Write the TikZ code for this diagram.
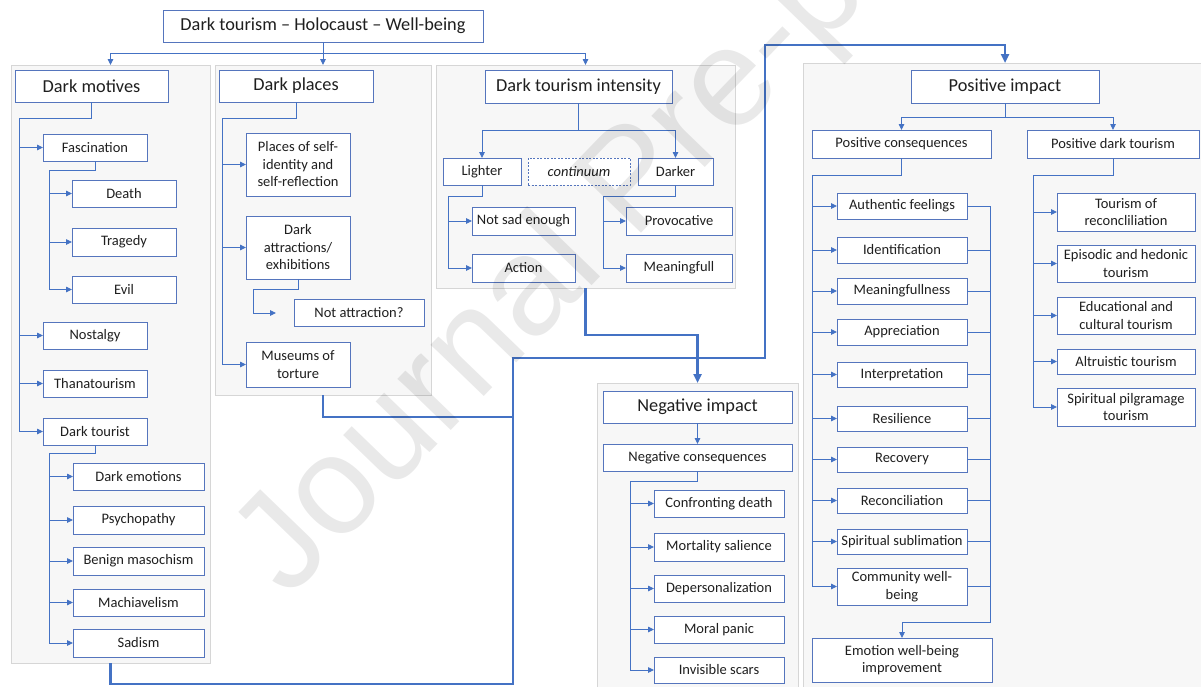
\documentclass[tikz,border=0pt]{standalone}
\usepackage{fontspec}
\setmainfont{Carlito}
\newfontfamily\wmfont{Liberation Sans}
\usetikzlibrary{arrows.meta}
\definecolor{lnblue}{HTML}{4472C4}
\definecolor{bxblue}{HTML}{5575BD}
\definecolor{pnfill}{HTML}{F7F7F7}
\definecolor{pnline}{HTML}{D6D6D6}
\definecolor{txt}{HTML}{1F1F1F}
\tikzset{
 bx/.style={draw=bxblue, line width=0.9pt, fill=white, text=txt, font=\fontsize{14.5}{17.5}\selectfont, align=center, inner sep=0pt, outer sep=0pt},
 hd/.style={bx, font=\fontsize{18.3}{21}\selectfont},
 dbx/.style={bx, dashed, dash pattern=on 2pt off 1.5pt},
 pnl/.style={draw=pnline, line width=0.8pt, fill=pnfill, inner sep=0pt, outer sep=0pt},
 cn/.style={draw=lnblue, line width=0.9pt},
 ar/.style={cn, -{Triangle[length=6pt,width=5.5pt]}},
 big/.style={draw=lnblue, line width=2.4pt},
 bigar/.style={big, -{Triangle[length=9pt,width=8pt]}},
}
\newcommand\mkbox[7][bx]{\node[#1,anchor=north west,minimum width={(#5-#3)*1pt},minimum height={(#6-#4)*1pt}] (#2) at (#3,#4) {#7};}
\begin{document}
\begin{tikzpicture}[x=1pt,y=-1pt]
\clip (0,0) rectangle (1201,686);
\fill[white] (0,0) rectangle (1201,686);
% panels
\mkbox[pnl]{pdm}{11}{65}{210}{663}{}
\mkbox[pnl]{pdp}{215}{65}{431}{395}{}
\mkbox[pnl]{pdi}{436}{65}{735}{288}{}
\mkbox[pnl]{pn}{597}{383}{798}{692}{}
\mkbox[pnl]{pp}{803}{63}{1207}{692}{}
% title
\mkbox[hd]{title}{163}{10}{483}{42}{Dark tourism – Holocaust – Well-being}
\coordinate (tA) at (323,53);
\draw[cn] (title.south) -- (tA);
\draw[ar] (tA) -| (pdm.north);
\draw[ar] (tA) -- (pdp.north);
\draw[ar] (tA) -| (pdi.north);
% dark motives
\mkbox[hd]{dm}{15}{70}{168}{102}{Dark motives}
\mkbox{fa}{43}{134}{147}{161}{Fascination}
\mkbox{de}{72}{180}{176}{207}{Death}
\mkbox{tr}{72}{228}{176}{256}{Tragedy}
\mkbox{ev}{72}{276}{176}{303}{Evil}
\mkbox{no}{43}{322}{147}{349}{Nostalgy}
\mkbox{th}{43}{370}{147}{397}{Thanatourism}
\mkbox{dt}{43}{418}{147}{445}{Dark tourist}
\mkbox{em}{73}{463}{204}{490}{Dark emotions}
\mkbox{psy}{73}{506}{204}{534}{Psychopathy}
\mkbox{bm}{73}{547}{204}{575}{Benign masochism}
\mkbox{ma}{73}{589}{204}{616}{Machiavelism}
\mkbox{sa}{73}{629}{204}{657}{Sadism}
\coordinate (dmJ) at (19,118);
\draw[cn] (dm.south) |- (dmJ);
\foreach \n in {fa,no,th,dt} \draw[ar] (dmJ) |- (\n.west);
\coordinate (faJ) at (49,170);
\draw[cn] (fa.south) |- (faJ);
\foreach \n in {de,tr,ev} \draw[ar] (faJ) |- (\n.west);
\coordinate (dtJ) at (49,453);
\draw[cn] (dt.south) |- (dtJ);
\foreach \n in {em,psy,bm,ma,sa} \draw[ar] (dtJ) |- (\n.west);
% dark places
\mkbox[hd]{dp}{219}{70}{373}{102}{Dark places}
\mkbox{pself}{246}{133}{350}{196}{Places of self-\\identity and\\self-reflection}
\mkbox{da}{246}{216}{350}{279}{Dark\\attractions/\\exhibitions}
\mkbox{na}{294}{299}{424}{326}{Not attraction?}
\mkbox{mu}{246}{342}{350}{387}{Museums of\\torture}
\coordinate (dpJ) at (222,118);
\draw[cn] (dp.south) |- (dpJ);
\foreach \n in {pself,da,mu} \draw[ar] (dpJ) |- (\n.west);
\coordinate (daJ) at (253,289);
\coordinate (naT) at (276,313);
\draw[cn] (da.south) |- (daJ);
\draw[ar] (daJ) |- (naT);
% intensity
\mkbox[hd]{di}{485}{70}{672}{103}{Dark tourism intensity}
\mkbox{li}{443}{158}{521}{185}{Lighter}
\mkbox[dbx]{co}{528}{158}{630}{185}{\textit{continuum}}
\mkbox{dk}{638}{158}{713}{185}{Darker}
\mkbox{nse}{472}{207}{575}{235}{Not sad enough}
\mkbox{ac}{472}{254}{575}{282}{Action}
\mkbox{pv}{626}{207}{732}{235}{Provocative}
\mkbox{mf}{626}{254}{732}{282}{Meaningfull}
\coordinate (diJ) at (578.5,130);
\draw[cn] (di.south) -- (diJ);
\draw[ar] (diJ) -| (li.north);
\draw[ar] (diJ) -| (dk.north);
\coordinate (liJ) at (448,196);
\draw[cn] (li.south) |- (liJ);
\foreach \n in {nse,ac} \draw[ar] (liJ) |- (\n.west);
\coordinate (dkJ) at (603,196);
\draw[cn] (dk.south) |- (dkJ);
\foreach \n in {pv,mf} \draw[ar] (dkJ) |- (\n.west);
% negative
\mkbox[hd]{ni}{603}{391}{792}{423}{Negative impact}
\mkbox{nc}{603}{444}{792}{471}{Negative consequences}
\mkbox{cd}{654}{490}{784}{517}{Confronting death}
\mkbox{ms}{654}{533}{784}{561}{Mortality salience}
\mkbox{dep}{654}{575}{784}{602}{Depersonalization}
\mkbox{mp}{654}{616}{784}{643}{Moral panic}
\mkbox{is}{654}{657}{784}{683}{Invisible scars}
\draw[ar] (ni.south) -- (nc.north);
\coordinate (ncJ) at (630,481);
\draw[cn] (nc.south) |- (ncJ);
\foreach \n in {cd,ms,dep,mp,is} \draw[ar] (ncJ) |- (\n.west);
% positive
\mkbox[hd]{pi}{911}{70}{1099}{103}{Positive impact}
\mkbox{pc}{812}{130}{991}{158}{Positive consequences}
\mkbox{pdt}{1027}{130}{1199}{158}{Positive dark tourism}
\coordinate (piJ) at (1005,117);
\draw[cn] (pi.south) -- (piJ);
\draw[ar] (piJ) -| (pc.north);
\draw[ar] (piJ) -| (pdt.north);
\mkbox{af}{837}{193}{967}{219}{Authentic feelings}
\mkbox{idf}{837}{237}{967}{263}{Identification}
\mkbox{mg}{837}{278}{967}{304}{Meaningfullness}
\mkbox{ap}{837}{319}{967}{345}{Appreciation}
\mkbox{ip}{837}{362}{967}{387}{Interpretation}
\mkbox{rs}{837}{406}{967}{431}{Resilience}
\mkbox{rc}{837}{447}{967}{472}{Recovery}
\mkbox{rl}{837}{488}{967}{513}{Reconciliation}
\mkbox{sps}{837}{529}{967}{554}{Spiritual sublimation}
\mkbox{cw}{837}{568}{967}{605}{Community well-\\being}
\mkbox{ewb}{812}{638}{992}{682}{Emotion well-being\\improvement}
\coordinate (pcJ) at (812,175);
\draw[cn] (pc.south) |- (pcJ);
\foreach \n in {af,idf,mg,ap,ip,rs,rc,rl,sps,cw} \draw[ar] (pcJ) |- (\n.west);
\coordinate (brX) at (990,0);
\coordinate (brB) at (990,622);
\foreach \n in {af,idf,mg,ap,ip,rs,rc,rl,sps,cw} \draw[cn] (\n.east) -- (\n.east -| brX);
\draw[ar] (af.east -| brX) -- (brB) -| (ewb.north);
\mkbox{tre}{1057}{193}{1195}{231}{Tourism of\\reconcliliation}
\mkbox{eh}{1057}{245}{1195}{282}{Episodic and hedonic\\tourism}
\mkbox{ec}{1057}{297}{1195}{334}{Educational and\\cultural tourism}
\mkbox{al}{1057}{349}{1195}{374}{Altruistic tourism}
\mkbox{spt}{1057}{388}{1195}{426}{Spiritual pilgramage\\tourism}
\coordinate (pdtJ) at (1033,175);
\draw[cn] (pdt.south) |- (pdtJ);
\foreach \n in {tre,eh,ec,al,spt} \draw[ar] (pdtJ) |- (\n.west);
% thick connectors
\coordinate (jA) at (513,684);
\coordinate (jB) at (513,358);
\coordinate (jC) at (765,45);
\coordinate (jD) at (513,417);
\coordinate (jE) at (585.5,335);
\draw[bigar] (pdm.south) |- (jA) -- (jB) -| (jC) -| (pp.north);
\draw[big] (pdp.south) |- (jD);
\draw[bigar] (pdi.south) -- (jE) -| (pn.north);
% watermark
\node[font=\wmfont\fontsize{140}{140}\selectfont, text=black, text opacity=0.085, rotate=46, anchor=base west, inner sep=0pt] (wm) at (288,600) {Journal Pre-proof};
\end{tikzpicture}
\end{document}
